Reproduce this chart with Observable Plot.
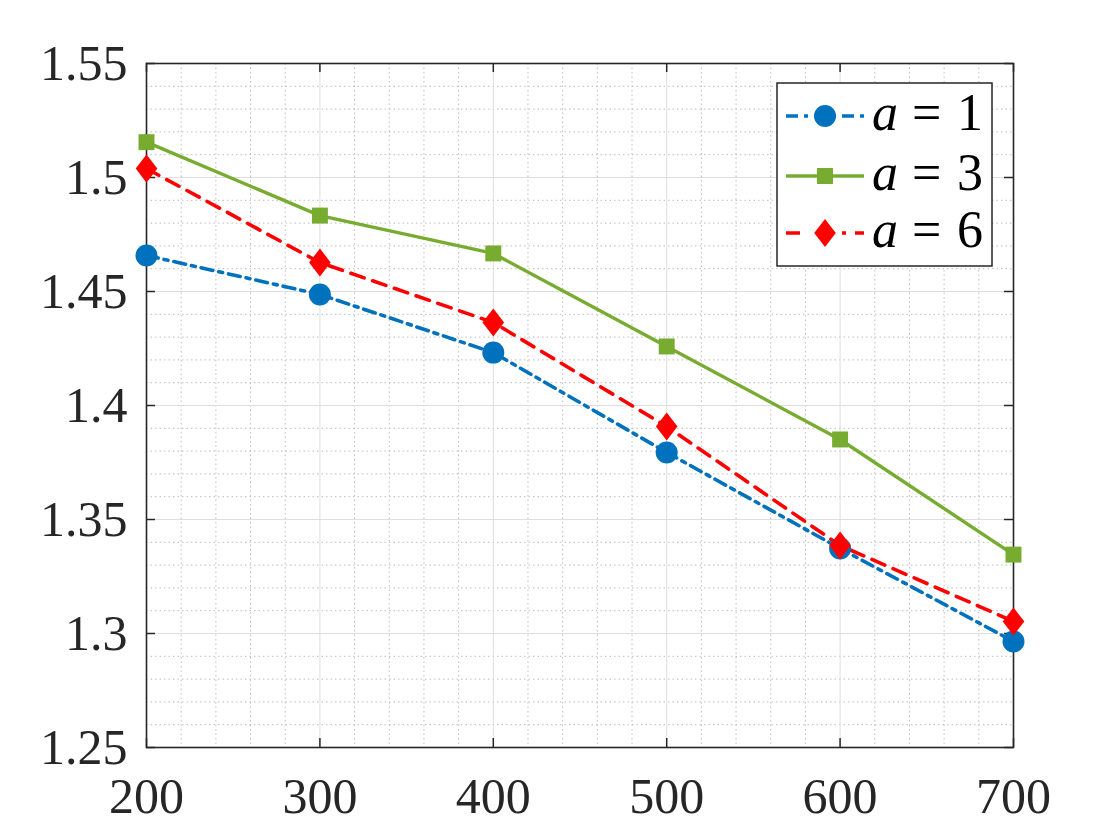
<!DOCTYPE html>
<html>
<head>
<meta charset="utf-8">
<script src="https://cdn.jsdelivr.net/npm/d3@7"></script>
<script src="https://cdn.jsdelivr.net/npm/@observablehq/plot@0.6"></script>
<style>
  html, body { margin: 0; padding: 0; background: #fff; }
  #wrap { position: relative; width: 1120px; height: 840px; }
  #wrap svg text { font-family: "Liberation Serif", "Times New Roman", serif; }
  #legend { position: absolute; left: 0; top: 0; pointer-events: none; }
</style>
</head>
<body>
<div id="wrap"></div>
<script>
// ---- data ----
const xValues = [200, 300, 400, 500, 600, 700];
const seriesA1 = [1.4658, 1.4487, 1.4232, 1.3794, 1.3373, 1.2965];
const seriesA3 = [1.5155, 1.4833, 1.4667, 1.4259, 1.3851, 1.3346];
const seriesA6 = [1.5039, 1.4627, 1.4364, 1.3908, 1.3386, 1.3053];
const seriesNames = ["a = 1", "a = 3", "a = 6"];
const seriesValues = [seriesA1, seriesA3, seriesA6];
const xTicks = [200, 300, 400, 500, 600, 700];
const yTicks = [1.25, 1.3, 1.35, 1.4, 1.45, 1.5, 1.55];
const yTickLabels = ["1.25", "1.3", "1.35", "1.4", "1.45", "1.5", "1.55"];

// ---- styles ----
const colors = ["#0072BD", "#77AC30", "#FF0000"];
const dashes = ["12,6,4,6", null, "14,9"];
const widths = [3.6, 3.4, 3.6];
const ink = "#262626";
const serif = "'Liberation Serif', 'Times New Roman', serif";

const diamond = {
  draw(ctx, size) {
    const r = Math.sqrt(size / Math.PI);
    const w = r * 1.0, h = r * 1.3;
    ctx.moveTo(0, -h); ctx.lineTo(w, 0); ctx.lineTo(0, h); ctx.lineTo(-w, 0); ctx.closePath();
  }
};
const symbols = ["circle", "square", diamond];
const radii = [11, 9, 10.8];

const rows = [];
seriesValues.forEach((vals, s) => vals.forEach((v, i) => rows.push({series: s, x: xValues[i], y: v})));

const xMinor = d3.range(200, 701, 20).filter(v => v % 100 !== 0);
const yMinor = d3.range(125, 156, 1).filter(v => v % 5 !== 0).map(v => v / 100);

const W = 1120, H = 840, ML = 146, MR = 107, MT = 63, MB = 93;
const fw = W - ML - MR, fh = H - MT - MB;
const tickLen = 9;

const marks = [
  Plot.ruleX(xMinor, {stroke: "#bdbdbd", strokeDasharray: "1.5,3", strokeWidth: 1}),
  Plot.ruleY(yMinor, {stroke: "#bdbdbd", strokeDasharray: "1.5,3", strokeWidth: 1}),
  Plot.ruleX(xTicks, {stroke: "#dedede", strokeWidth: 1}),
  Plot.ruleY(yTicks, {stroke: "#dedede", strokeWidth: 1}),
  Plot.ruleX(xTicks, {stroke: ink, strokeWidth: 1.5, insetTop: fh - tickLen}),
  Plot.ruleX(xTicks, {stroke: ink, strokeWidth: 1.5, insetBottom: fh - tickLen}),
  Plot.ruleY(yTicks, {stroke: ink, strokeWidth: 1.5, insetRight: fw - tickLen}),
  Plot.ruleY(yTicks, {stroke: ink, strokeWidth: 1.5, insetLeft: fw - tickLen}),
  Plot.frame({stroke: ink, strokeWidth: 1.6}),
  Plot.axisX({ticks: xTicks, label: null, tickSize: 0, tickPadding: 30, fontSize: 50, fontFamily: serif, tickFormat: d => String(d), fill: ink}),
  Plot.axisY({ticks: yTicks, label: null, tickSize: 0, tickPadding: 19, fontSize: 50, fontFamily: serif, tickFormat: d => yTickLabels[yTicks.indexOf(d)], fill: ink})
];
seriesValues.forEach((vals, s) => {
  const data = rows.filter(r => r.series === s);
  marks.push(Plot.line(data, {x: "x", y: "y", stroke: colors[s], strokeWidth: widths[s], strokeDasharray: dashes[s] || undefined}));
});
seriesValues.forEach((vals, s) => {
  const data = rows.filter(r => r.series === s);
  marks.push(Plot.dot(data, {x: "x", y: "y", r: radii[s], symbol: symbols[s], fill: colors[s], stroke: "none"}));
});

const chart = Plot.plot({
  width: W, height: H,
  marginLeft: ML, marginRight: MR, marginTop: MT, marginBottom: MB,
  x: {domain: [200, 700], axis: null},
  y: {domain: [1.25, 1.55], axis: null},
  style: {fontFamily: serif, color: ink, background: "#fff", overflow: "visible"},
  marks
});
document.getElementById("wrap").appendChild(chart);

// ---- legend (overlay) ----
const lg = d3.select("#wrap").append("svg").attr("id", "legend").attr("width", W).attr("height", H);
const bx = 777, by = 83, bw = 215, bh = 183;
lg.append("rect").attr("x", bx).attr("y", by).attr("width", bw).attr("height", bh)
  .attr("fill", "#fff").attr("stroke", ink).attr("stroke-width", 1.5);
const rowY = [116, 176, 233];
const sym = [d3.symbolCircle, d3.symbolSquare];
seriesNames.forEach((name, s) => {
  const y = rowY[s];
  lg.append("line").attr("x1", 786).attr("x2", 864).attr("y1", y).attr("y2", y)
    .attr("stroke", colors[s]).attr("stroke-width", widths[s])
    .attr("stroke-dasharray", dashes[s] || null);
  const r = radii[s];
  let path;
  if (s === 2) {
    const w = r * 1.0, h = r * 1.3;
    path = `M0,${-h}L${w},0L0,${h}L${-w},0Z`;
    lg.append("rect").attr("x", 808).attr("y", y - 4).attr("width", 34).attr("height", 8).attr("fill", "#fff");
  } else {
    path = d3.symbol(sym[s], Math.PI * r * r)();
  }
  lg.append("path").attr("d", path).attr("transform", `translate(825,${y})`).attr("fill", colors[s]);
  const parts = name.split(" = ");
  const t = lg.append("text").attr("y", y + 14).attr("font-family", serif)
    .attr("font-size", 52).attr("fill", "#000");
  t.append("tspan").attr("x", 872).attr("font-style", "italic").text(parts[0]);
  t.append("tspan").attr("x", 912).text("=");
  t.append("tspan").attr("x", 957).text(parts[1]);
});
</script>
</body>
</html>
